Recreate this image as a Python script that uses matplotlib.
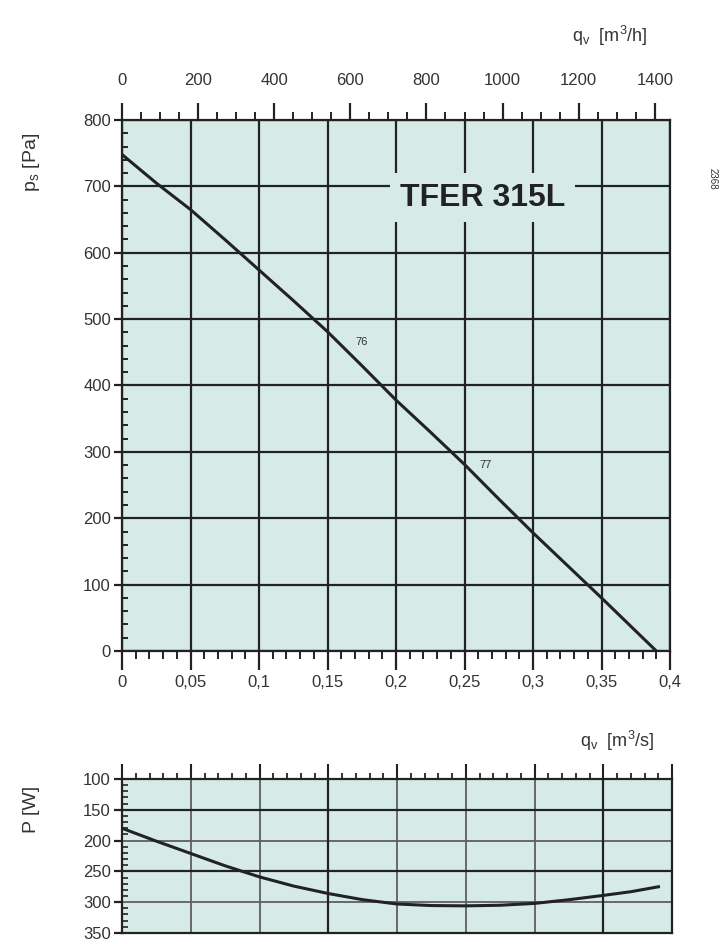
import matplotlib.pyplot as plt
import numpy as np
from matplotlib.ticker import MultipleLocator, FuncFormatter

plt.rcParams['font.family'] = ['Liberation Sans', 'DejaVu Sans']
plt.rcParams['mathtext.default'] = 'regular'

# Data #

q_ps = [0, 0.025, 0.05, 0.075, 0.1, 0.125, 0.15, 0.175, 0.2, 0.225, 0.25, 0.275, 0.3, 0.325,
        0.35, 0.375, 0.39]
ps = [748, 705, 665, 620, 574, 528, 481, 430, 378, 330, 281, 229, 178, 129, 80, 30, 0]

q_P = [0, 0.025, 0.05, 0.075, 0.1, 0.125, 0.15, 0.175, 0.2, 0.225, 0.25, 0.275, 0.3, 0.325,
       0.35, 0.37, 0.39]
P = [180, 201, 221, 241, 259, 274, 286, 296, 303, 305.5, 306, 305, 302, 296, 289, 283, 275]

model = 'TFER 315L'
point_labels = ['76', '77']
point_q = [0.175, 0.265]
point_ps = [465, 280]

bg = '#d6ebe8'
ink = '#222222'
txt = '#333333'

fig = plt.figure(figsize=(7.22, 9.44), dpi=100)

# Main pressure chart #

ax = fig.add_axes([0.169, 0.3104, 0.759, 0.5625])
ax.set_facecolor(bg)
ax.set_xlim(0, 0.4)
ax.set_ylim(0, 800)
ax.xaxis.set_major_locator(MultipleLocator(0.05))
ax.xaxis.set_minor_locator(MultipleLocator(0.01))
ax.yaxis.set_major_locator(MultipleLocator(100))
ax.yaxis.set_minor_locator(MultipleLocator(20))
ax.xaxis.set_major_formatter(FuncFormatter(lambda v, p: ('%g' % round(v, 3)).replace('.', ',')))
ax.grid(True, which='major', color=ink, lw=1.6)
ax.set_axisbelow(True)
for s in ax.spines.values():
    s.set_color(ink)
    s.set_linewidth(1.6)
ax.tick_params(axis='x', which='major', direction='out', length=14, width=1.6, color=ink,
               labelsize=12, labelcolor=txt, pad=3)
ax.tick_params(axis='x', which='minor', direction='out', length=6, width=1.4, color=ink)
ax.tick_params(axis='y', which='major', direction='out', length=6, width=1.6, color=ink,
               labelsize=12, labelcolor=txt, pad=2)
ax.tick_params(axis='y', which='minor', direction='in', length=4, width=1.4, color=ink)
ax.tick_params(right=False, which='both')

ax.plot(q_ps, ps, color=ink, lw=2.2, zorder=3)

for lab, xq, yp in zip(point_labels, point_q, point_ps):
    ax.text(xq, yp, lab, fontsize=8, color=txt, ha='center', va='center')

ax.text(0.263, 683, model, fontsize=23, fontweight='bold', color=ink, ha='center', va='center',
        bbox=dict(facecolor=bg, edgecolor='none', pad=7), zorder=4)

ax.text(-0.165, 0.92, r'p$_s$ [Pa]', transform=ax.transAxes, rotation=90, fontsize=14,
        color=txt, ha='center', va='center')
fig.text(0.855, 0.2155, r'q$_v$  [m$^3$/s]', fontsize=13, color=txt, ha='center', va='center')
fig.text(0.987, 0.811, '2368', fontsize=7, color=txt, rotation=270, ha='center', va='center')

# Top axis in m3/h #

top = ax.twiny()
top.set_xlim(0, 0.4 * 3600)
top.xaxis.set_major_locator(MultipleLocator(200))
top.xaxis.set_minor_locator(MultipleLocator(50))
top.tick_params(axis='x', which='major', direction='out', length=12, width=1.6, color=ink,
                labelsize=12, labelcolor=txt, pad=11)
top.tick_params(axis='x', which='minor', direction='out', length=6, width=1.4, color=ink)
for s in top.spines.values():
    s.set_visible(False)
fig.text(0.845, 0.962, r'q$_v$  [m$^3$/h]', fontsize=13, color=txt, ha='center', va='center')

# Power chart #

bx = fig.add_axes([0.169, 0.0117, 0.762, 0.1631])
bx.set_facecolor(bg)
bx.set_xlim(0, 0.4)
bx.set_ylim(350, 100)
bx.xaxis.set_major_locator(MultipleLocator(0.05))
bx.xaxis.set_minor_locator(MultipleLocator(0.01))
bx.yaxis.set_major_locator(MultipleLocator(50))
bx.yaxis.set_minor_locator(MultipleLocator(10))
bx.grid(True, which='major', color='#5f5f5f', lw=1.3)
bx.set_axisbelow(True)
for s in bx.spines.values():
    s.set_color(ink)
    s.set_linewidth(1.6)
bx.xaxis.tick_top()
bx.tick_params(axis='x', which='major', direction='out', length=11, width=1.5, color=ink,
               labeltop=False, labelbottom=False)
bx.tick_params(axis='x', which='minor', direction='out', length=4.5, width=1.3, color=ink)
bx.tick_params(axis='y', which='major', direction='out', length=6, width=1.6, color=ink,
               labelsize=12, labelcolor=txt, pad=2)
bx.tick_params(axis='y', which='minor', direction='in', length=4, width=1.2, color=ink)

dark_q = [0.15, 0.35]
dark_P = [150, 250]
for v in dark_q:
    bx.axvline(v, color=ink, lw=1.6, zorder=1)
for v in dark_P:
    bx.axhline(v, color=ink, lw=1.6, zorder=1)

bx.plot(q_P, P, color=ink, lw=2.2, zorder=3)
bx.text(-0.165, 0.8, 'P [W]', transform=bx.transAxes, rotation=90, fontsize=14,
        color=txt, ha='center', va='center')

plt.savefig('out.png', dpi=100)
